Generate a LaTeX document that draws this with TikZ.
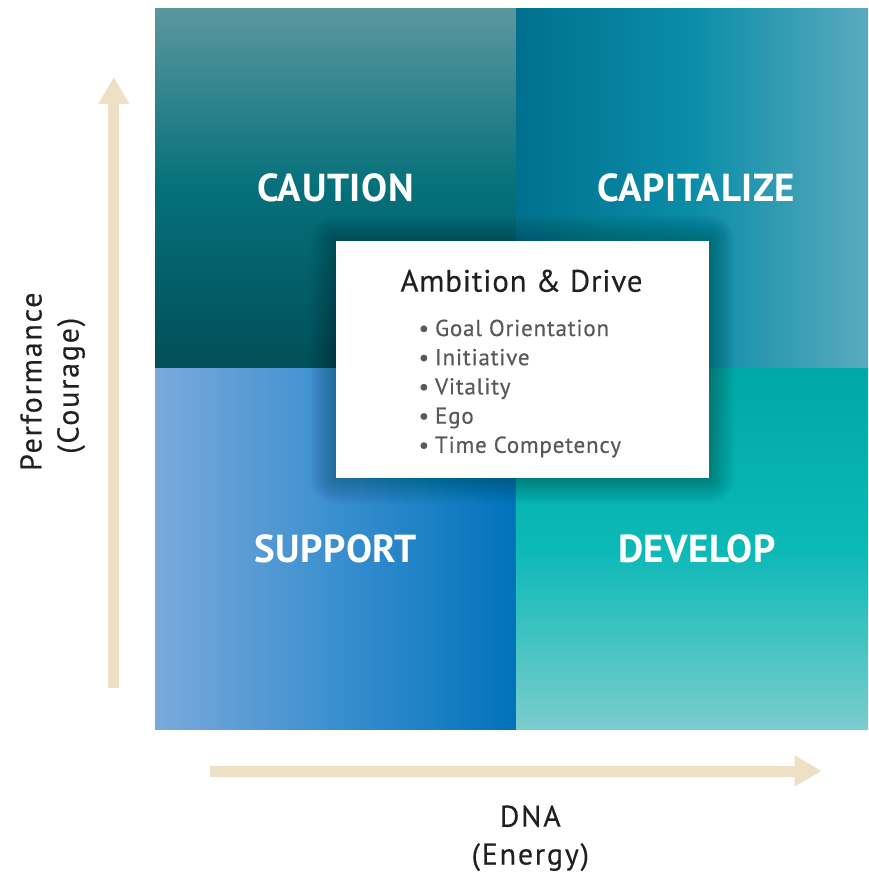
\documentclass[tikz,border=0pt]{standalone}
\usepackage{fontspec}
\setmainfont{PT Sans}
\newfontfamily\axisfont{PT Sans}[LetterSpace=6, FakeBold=0.25]
\newfontfamily\titlefont{PT Sans}[LetterSpace=2.5, FakeBold=0.25]
\newfontfamily\itemfont{PT Sans}[LetterSpace=3.5, FakeBold=0.4]
\newfontfamily\quadfont{PT Sans Bold}[LetterSpace=1.5]
\usetikzlibrary{arrows.meta,calc}
\definecolor{tlTop}{HTML}{5B979F}
\definecolor{tlMid}{HTML}{05707A}
\definecolor{tlBot}{HTML}{024E58}
\definecolor{trLeft}{HTML}{00708E}
\definecolor{trMid}{HTML}{0A8DA8}
\definecolor{trRight}{HTML}{5AAABE}
\definecolor{blLeft}{HTML}{7BA9DB}
\definecolor{blMid}{HTML}{3A8FCF}
\definecolor{blRight}{HTML}{0072BB}
\definecolor{brTop}{HTML}{00A8A6}
\definecolor{brMid}{HTML}{0BB9B7}
\definecolor{brBot}{HTML}{7BCDCD}
\definecolor{beige}{HTML}{EDE0C4}
\definecolor{ink}{HTML}{231F20}
\definecolor{bulletgray}{HTML}{58595B}
\tikzset{
  quadlabel/.style={text=white, font=\quadfont\fontsize{39}{39}\selectfont, anchor=base, inner sep=0pt},
  axislabel/.style={text=ink, font=\axisfont\fontsize{30}{30}\selectfont, anchor=base, inner sep=0pt},
  bulletitem/.style={text=bulletgray, font=\itemfont\fontsize{23}{23}\selectfont, anchor=base west, inner sep=0pt},
  axisarrow/.style={draw=beige, line width=11pt, -{Triangle[width=29pt,length=27pt]}},
  infobox/.style={fill=white, minimum width=373pt, minimum height=237pt, inner sep=0pt, anchor=north west}
}
\begin{document}
\begin{tikzpicture}[x=1pt,y=-1pt]
\useasboundingbox (0,0) rectangle (868,873);
\fill[white] (0,0) rectangle (868,873);
% quadrants
\shade[top color=tlTop, bottom color=tlBot, middle color=tlMid] (155,8) rectangle (516.5,369);
\shade[left color=trLeft, right color=trRight, middle color=trMid] (516,8) rectangle (868,369);
\shade[left color=blLeft, right color=blRight, middle color=blMid] (155,368.5) rectangle (516.5,729.5);
\shade[top color=brTop, bottom color=brBot, middle color=brMid] (516,368.5) rectangle (868,729.5);
% quadrant labels
\node[quadlabel] (caution) at (335.5,201.7) {CAUTION};
\node[quadlabel] (capitalize) at (696.5,201.7) {CAPITALIZE};
\node[quadlabel] (support) at (335.7,562) {SUPPORT};
\node[quadlabel] (develop) at (697,562) {DEVELOP};
% soft shadow of the central box
\foreach \i in {1,...,26}{
  \fill[black, opacity=0.008, rounded corners=\i pt] (336-\i,241-\i) rectangle (709+\i,478+\i);
}
% central box
\node[infobox] (box) at (336,241) {};
\node[text=ink, font=\titlefont\fontsize{31}{31}\selectfont, anchor=base, inner sep=0pt] (title) at (521.5,291.7) {Ambition \& Drive};
\node[bulletitem] (b1) at (418.5,336) {•\hspace{6pt}Goal Orientation};
\node[bulletitem] (b2) at (418.5,365.2) {•\hspace{6pt}Initiative};
\node[bulletitem] (b3) at (418.5,394.4) {•\hspace{6pt}Vitality};
\node[bulletitem] (b4) at (418.5,423.6) {•\hspace{6pt}Ego};
\node[bulletitem] (b5) at (418.5,452.8) {•\hspace{6pt}Time Competency};
% axes
\coordinate (vstart) at (113.8,688);
\coordinate (vend) at (113.8,77);
\draw[axisarrow] (vstart) -- (vend);
\coordinate (hstart) at (210,771);
\coordinate (hend) at (821.7,771);
\draw[axisarrow] (hstart) -- (hend);
% axis labels
\node[axislabel] (dna) at (530.3,826.7) {DNA};
\node[axislabel] (energy) at (530.3,864.5) {(Energy)};
\node[axislabel, rotate=90] (perf) at (41.5,381.7) {Performance};
\node[axislabel, rotate=90] (courage) at (78.5,385.8) {(Courage)};
\end{tikzpicture}
\end{document}
